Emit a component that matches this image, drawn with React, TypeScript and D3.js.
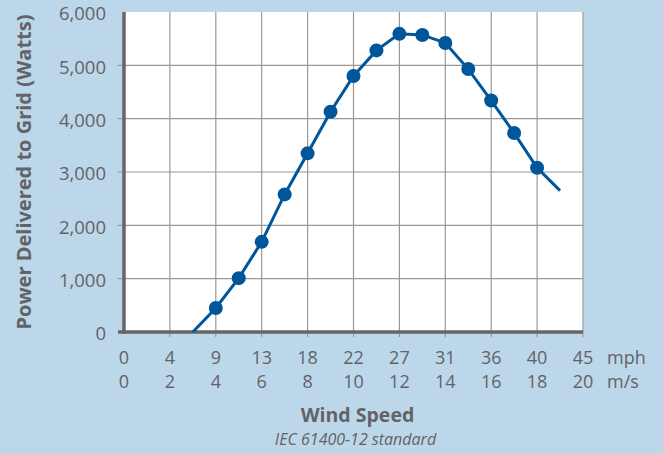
import React from 'react';
import * as d3 from 'd3';

// wind speed (m/s) vs power delivered to grid (W)
const windMs = [3, 4, 5, 6, 7, 8, 9, 10, 11, 12, 13, 14, 15, 16, 17, 18, 19];
const powerW = [0, 450, 1010, 1690, 2580, 3350, 4130, 4800, 5280, 5590, 5570, 5420, 4930, 4340, 3730, 3080, 2650];
// first and last points are only line ends, no dot
const markerMin = 4;
const markerMax = 18;

const msTicks = [0, 2, 4, 6, 8, 10, 12, 14, 16, 18, 20];
const mphLabels = ['0', '4', '9', '13', '18', '22', '27', '31', '36', '40', '45'];
const yTicks = [0, 1000, 2000, 3000, 4000, 5000, 6000];

const W = 663;
const H = 454;
const bg = '#bdd7ea';
const textColor = '#626366';
const lineColor = '#00569a';
const font = "'Open Sans', sans-serif";

const App: React.FC = () => {
  const x = d3.scaleLinear().domain([0, 20]).range([124, 583]);
  const y = d3.scaleLinear().domain([0, 6000]).range([332, 12]);

  const pts = windMs.map((w, i) => ({ w, p: powerW[i] }));
  const line = d3.line<{ w: number; p: number }>()
    .x(d => x(d.w))
    .y(d => y(d.p));

  const fmt = d3.format(',');
  const midX = (x(0) + x(20)) / 2;

  return (
    <svg width={W} height={H} style={{ position: 'absolute', left: 0, top: 0, display: 'block' }}
      fontFamily={font}>
      <rect width={W} height={H} fill={bg} />
      <rect x={x(0)} y={y(6000)} width={x(20) - x(0)} height={y(0) - y(6000)} fill="#fff" />

      {/* grid */}
      {yTicks.filter(t => t > 0 && t < 6000).map(t => (
        <line key={'gy' + t} x1={x(0) - 6} x2={x(20)} y1={y(t)} y2={y(t)} stroke="#999" strokeWidth={1.2} />
      ))}
      {msTicks.filter(t => t > 0).map(t => (
        <line key={'gx' + t} x1={x(t)} x2={x(t)} y1={y(6000)} y2={y(0) + 5} stroke="#999" strokeWidth={1.2} />
      ))}

      {/* axes */}
      <line x1={x(0)} x2={x(0)} y1={y(6000)} y2={y(0) + 2} stroke="#666" strokeWidth={3.5} />
      <line x1={x(0) - 6} x2={x(20)} y1={y(0)} y2={y(0)} stroke="#666" strokeWidth={3.5} />

      {/* y tick labels */}
      {yTicks.map(t => (
        <text key={'yl' + t} x={106} y={y(t)} dy="0.45em" textAnchor="end" fontSize={18.5} fill={textColor}>
          {fmt(t)}
        </text>
      ))}

      {/* x tick labels */}
      {msTicks.map((t, i) => (
        <g key={'xl' + t}>
          <text x={x(t)} y={364} textAnchor="middle" fontSize={18} fill={textColor}>{mphLabels[i]}</text>
          <text x={x(t)} y={388} textAnchor="middle" fontSize={18} fill={textColor}>{t}</text>
        </g>
      ))}
      <text x={607} y={364} fontSize={18} fill={textColor}>mph</text>
      <text x={607} y={388} fontSize={18} fill={textColor}>m/s</text>

      {/* series */}
      <path d={line(pts) || ''} fill="none" stroke={lineColor} strokeWidth={3} />
      {pts.filter(d => d.w >= markerMin && d.w <= markerMax).map(d => (
        <circle key={'c' + d.w} cx={x(d.w)} cy={y(d.p)} r={7} fill={lineColor} />
      ))}

      {/* titles */}
      <text transform={`translate(31,${(y(0) + y(6000)) / 2}) rotate(-90)`} textAnchor="middle"
        fontSize={20} fontWeight="bold" fill={textColor}>
        Power Delivered to Grid (Watts)
      </text>
      <text x={midX + 4} y={422} textAnchor="middle" fontSize={19.5} fontWeight="bold" fill={textColor}>
        Wind Speed
      </text>
      <text x={midX + 2} y={445} textAnchor="middle" fontSize={16} fontStyle="italic" fill={textColor}>
        IEC 61400-12 standard
      </text>
    </svg>
  );
};

export default App;
